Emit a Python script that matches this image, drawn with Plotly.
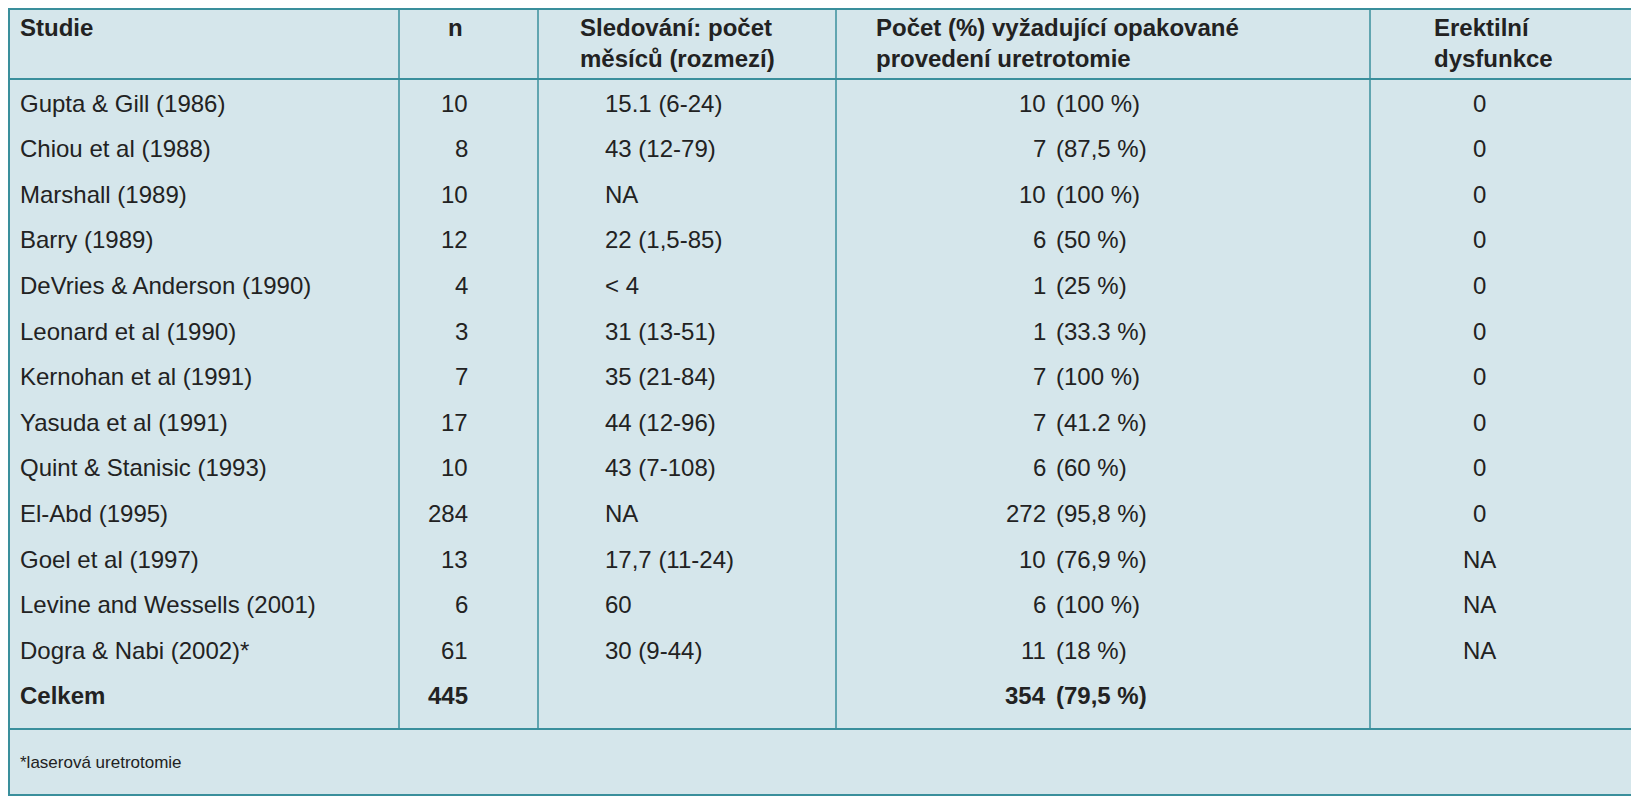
import plotly.graph_objects as go

studies = ["Gupta & Gill (1986)", "Chiou et al (1988)", "Marshall (1989)", "Barry (1989)",
           "DeVries & Anderson (1990)", "Leonard et al (1990)", "Kernohan et al (1991)",
           "Yasuda et al (1991)", "Quint & Stanisic (1993)", "El-Abd (1995)", "Goel et al (1997)",
           "Levine and Wessells (2001)", "Dogra & Nabi (2002)*"]
n_vals = ["10", "8", "10", "12", "4", "3", "7", "17", "10", "284", "13", "6", "61"]
follow = ["15.1 (6-24)", "43 (12-79)", "NA", "22 (1,5-85)", "< 4", "31 (13-51)", "35 (21-84)",
          "44 (12-96)", "43 (7-108)", "NA", "17,7 (11-24)", "60", "30 (9-44)"]
redo_n = ["10", "7", "10", "6", "1", "1", "7", "7", "6", "272", "10", "6", "11"]
redo_pct = ["(100 %)", "(87,5 %)", "(100 %)", "(50 %)", "(25 %)", "(33.3 %)", "(100 %)",
            "(41.2 %)", "(60 %)", "(95,8 %)", "(76,9 %)", "(100 %)", "(18 %)"]
ed = ["0"] * 10 + ["NA"] * 3
total_label, total_n, total_redo_n, total_redo_pct = "Celkem", "445", "354", "(79,5 %)"
headers = ["Studie", "n", "Sledování: počet<br>měsíců (rozmezí)",
           "Počet (%) vyžadující opakované<br>provedení uretrotomie", "Erektilní<br>dysfunkce"]
footnote = "*laserová uretrotomie"

W, H = 1639, 800
OFF = 8
BG = "#d5e6eb"
LC = "#3a8f9c"
TC = "#222222"
FONT = "Liberation Sans, Arial, sans-serif"
FS = 24

fig = go.Figure()
fig.add_trace(go.Scatter(x=[OFF, W], y=[OFF, H], mode="markers", marker=dict(opacity=0), hoverinfo="skip"))

ann = []
def txt(x, y, t, anchor="left", bold=False, size=FS, va="middle"):
    if bold:
        t = "<b>" + t.replace("<br>", "</b><br><b>") + "</b>"
    ann.append(dict(x=x, y=y, text=t, xanchor=anchor, yanchor=va, showarrow=False,
                    align=anchor if anchor != "center" else "center",
                    font=dict(family=FONT, size=size, color=TC)))

hy = 12
txt(18, hy, headers[0], bold=True, va="top")
txt(455, hy, headers[1], anchor="center", bold=True, va="top")
txt(578, hy, headers[2], bold=True, va="top")
txt(874, hy, headers[3], bold=True, va="top")
txt(1432, hy, headers[4], bold=True, va="top")

y0, dy = 103, 45.6
for i in range(len(studies)):
    y = y0 + i * dy
    txt(18, y, studies[i])
    txt(470, y, n_vals[i], anchor="right")
    txt(603, y, follow[i])
    txt(1048, y, redo_n[i], anchor="right")
    txt(1054, y, redo_pct[i])
    txt(1479, y, ed[i], anchor="center")
yt = y0 + len(studies) * dy
txt(18, yt, total_label, bold=True)
txt(470, yt, total_n, anchor="right", bold=True)
txt(1048, yt, total_redo_n, anchor="right", bold=True)
txt(1054, yt, total_redo_pct, bold=True)
txt(18, 762, footnote, size=17)

shapes = [dict(type="rect", x0=OFF + 1, y0=OFF + 1, x1=W - 4, y1=795, fillcolor=BG,
               line=dict(color=LC, width=2), layer="below")]
for y in [79, 729]:
    shapes.append(dict(type="line", x0=OFF + 1, x1=W - 4, y0=y, y1=y, line=dict(color=LC, width=2)))
for x in [399, 538, 836, 1370]:
    shapes.append(dict(type="line", x0=x, x1=x, y0=OFF + 1, y1=729, line=dict(color=LC, width=1.5)))

fig.update_layout(width=W - OFF, height=H - OFF, margin=dict(l=0, r=0, t=0, b=0),
                  paper_bgcolor="white", plot_bgcolor="white", showlegend=False,
                  xaxis=dict(range=[OFF, W], visible=False, fixedrange=True),
                  yaxis=dict(range=[H, OFF], visible=False, fixedrange=True),
                  annotations=ann, shapes=shapes)
fig.write_html("out.html", config={"displayModeBar": False})
